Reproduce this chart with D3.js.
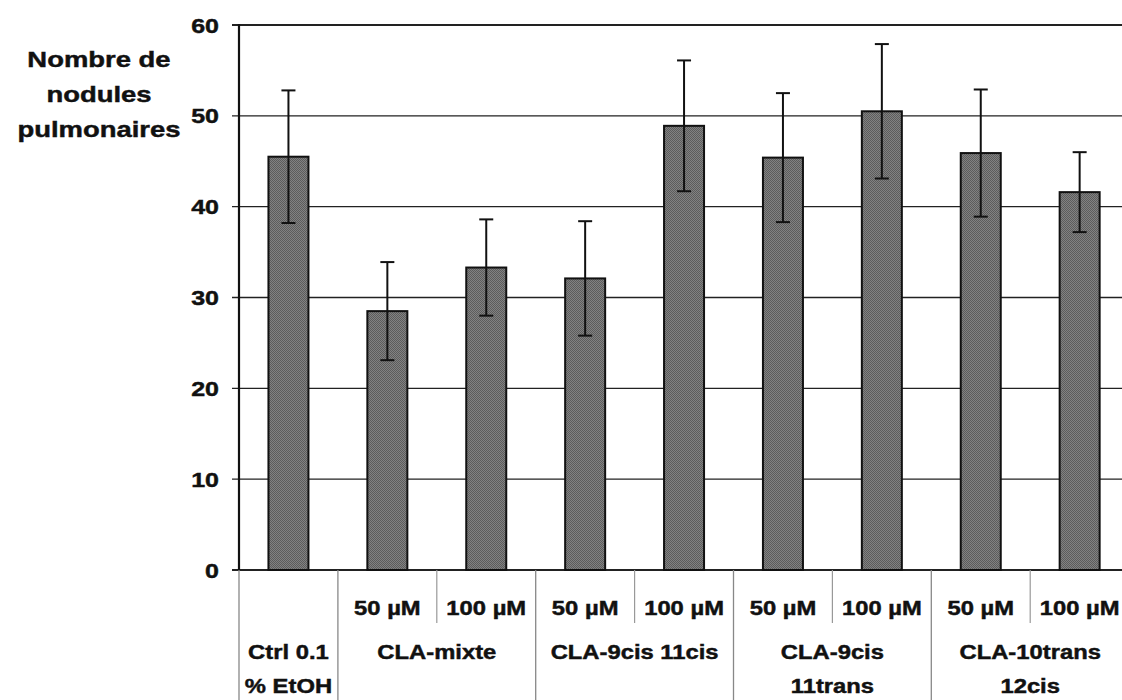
<!DOCTYPE html>
<html>
<head>
<meta charset="utf-8">
<script src="https://cdn.jsdelivr.net/npm/d3@7"></script>
<style>
  body { margin: 0; background: #fff; }
  text { font-family: Arial, "Liberation Sans", sans-serif; font-weight: bold; fill: #111; stroke: #111; stroke-width: 0.45px; }
</style>
</head>
<body>
<svg width="1122" height="700"></svg>
<script>
// data
const bars = ["ctrl", "mix50", "mix100", "cc50", "cc100", "ct50", "ct100", "tc50", "tc100"];
const means = [45.5, 28.5, 33.3, 32.1, 48.9, 45.4, 50.5, 45.9, 41.6];
const errs = [7.3, 5.4, 5.3, 6.3, 7.2, 7.1, 7.4, 7.0, 4.4];
const doses = ["", "50 µM", "100 µM", "50 µM", "100 µM", "50 µM", "100 µM", "50 µM", "100 µM"];
const groups = [["Ctrl 0.1", "% EtOH"], ["CLA-mixte"], ["CLA-9cis 11cis"], ["CLA-9cis", "11trans"], ["CLA-10trans", "12cis"]];
const groupSpans = [[0, 1], [1, 3], [3, 5], [5, 7], [7, 9]];
const yTicks = [0, 10, 20, 30, 40, 50, 60];
const yTitle = ["Nombre de", "nodules", "pulmonaires"];

const svg = d3.select("svg");
var width = +svg.attr("width");
var height = +svg.attr("height");

const plotLeft = 239, plotTop = 25, plotBottom = 570, step = 98.9;
const SX = 1.22; // the text in the picture is stretched sideways

const x = d3.scaleBand().domain(bars).range([plotLeft, plotLeft + step * bars.length]);
const y = d3.scaleLinear().domain([0, 60]).range([plotBottom, plotTop]);

// stipple fill of the bars
const pat = svg.append("defs").append("pattern")
    .attr("id", "dots").attr("width", 2).attr("height", 2)
    .attr("patternUnits", "userSpaceOnUse");
pat.append("rect").attr("width", 2).attr("height", 2).attr("fill", "#828282");
pat.append("rect").attr("width", 1).attr("height", 1).attr("fill", "#5c5c5c");
pat.append("rect").attr("x", 1).attr("y", 1).attr("width", 1).attr("height", 1).attr("fill", "#5c5c5c");

function label(g, tx, ty, str, size, anchor) {
    return g.append("text")
        .attr("transform", `translate(${tx},${ty}) scale(${SX},1)`)
        .attr("text-anchor", anchor || "middle")
        .style("font-size", size + "px")
        .text(str);
}

// grid lines
svg.append("g").selectAll("line")
    .data(yTicks)
    .enter().append("line")
    .attr("x1", plotLeft - 7).attr("x2", width)
    .attr("y1", d => y(d)).attr("y2", d => y(d))
    .attr("stroke", "#222")
    .attr("stroke-width", d => d === 60 || d === 0 ? 2.2 : 1.3);

// tick labels
const tl = svg.append("g");
yTicks.forEach(d => label(tl, 219, y(d) + 7.5, d, 20.5, "end"));

// y axis line
svg.append("line")
    .attr("x1", plotLeft).attr("x2", plotLeft)
    .attr("y1", plotTop - 1).attr("y2", plotBottom)
    .attr("stroke", "#111").attr("stroke-width", 2.2);

// axis title
const tt = svg.append("g");
yTitle.forEach((s, i) => label(tt, 99, 67 + i * 35, s, 22.5));

// bars
const bw = 40;
svg.append("g").selectAll("rect")
    .data(bars)
    .enter().append("rect")
    .attr("x", (d, i) => x(d) + x.bandwidth() / 2 - bw / 2)
    .attr("y", (d, i) => y(means[i]))
    .attr("width", bw)
    .attr("height", (d, i) => y(0) - y(means[i]))
    .attr("fill", "url(#dots)")
    .attr("stroke", "#111")
    .attr("stroke-width", 2);

// error bars
const eb = svg.append("g").attr("stroke", "#111").attr("stroke-width", 2);
bars.forEach((d, i) => {
    const cx = x(d) + x.bandwidth() / 2;
    const hi = y(means[i] + errs[i]), lo = y(means[i] - errs[i]);
    eb.append("line").attr("x1", cx).attr("x2", cx).attr("y1", hi).attr("y2", lo);
    eb.append("line").attr("x1", cx - 7).attr("x2", cx + 7).attr("y1", hi).attr("y2", hi);
    eb.append("line").attr("x1", cx - 7).attr("x2", cx + 7).attr("y1", lo).attr("y2", lo);
});

// table below the axis
const tb = svg.append("g");
tb.append("line")
    .attr("x1", plotLeft).attr("x2", plotLeft).attr("y1", plotBottom).attr("y2", height)
    .attr("stroke", "#888").attr("stroke-width", 1.3);
groupSpans.forEach(([a, b], gi) => {
    const x0 = x(bars[a]), x1 = x(bars[b - 1]) + x.bandwidth();
    tb.append("line")
        .attr("x1", x1).attr("x2", x1).attr("y1", plotBottom).attr("y2", height)
        .attr("stroke", "#888").attr("stroke-width", 1.3);
    if (b - a === 2) {
        const xm = x(bars[a + 1]);
        tb.append("line")
            .attr("x1", xm).attr("x2", xm).attr("y1", plotBottom).attr("y2", 623)
            .attr("stroke", "#999").attr("stroke-width", 1.2);
    }
    const cx = (x0 + x1) / 2;
    groups[gi].forEach((s, li) => label(tb, cx, 659 + li * 34, s, 19.5));
});
bars.forEach((d, i) => {
    if (doses[i]) label(tb, x(d) + x.bandwidth() / 2, 615, doses[i], 19.5);
});
</script>
</body>
</html>
